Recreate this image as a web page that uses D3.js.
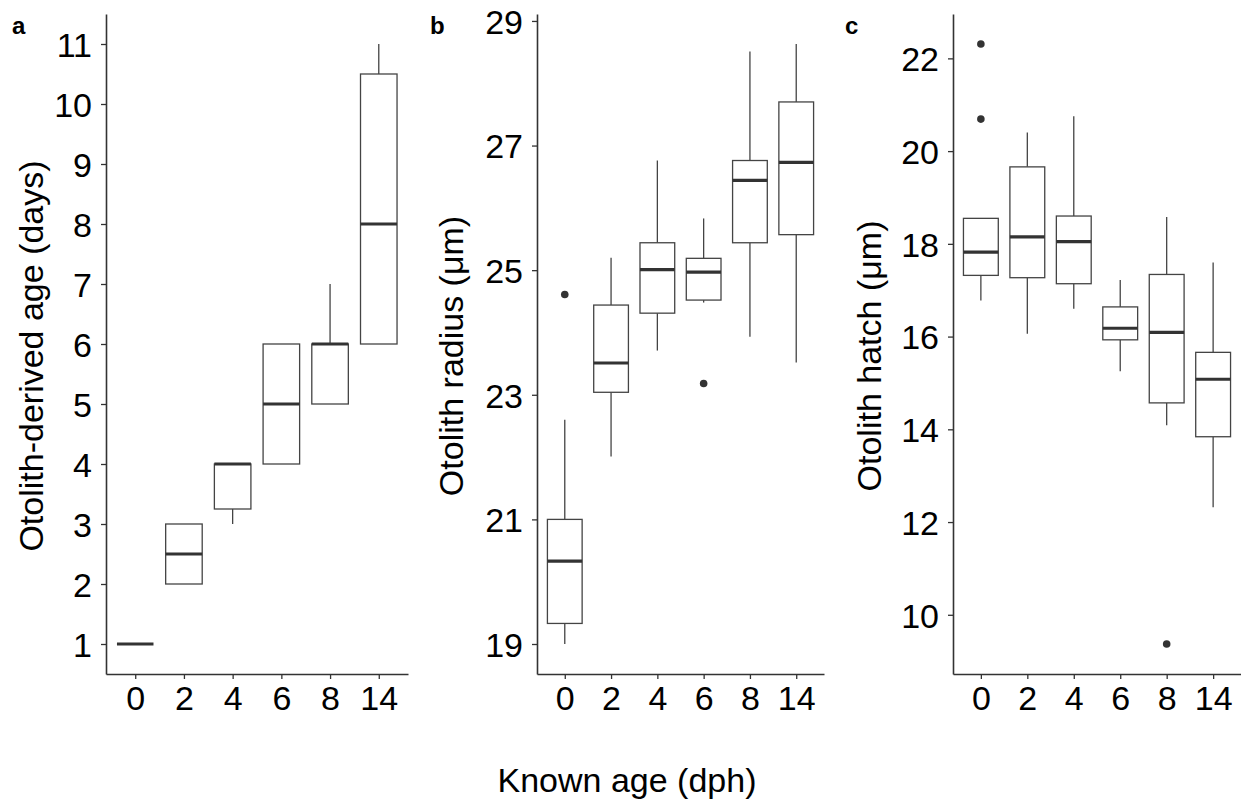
<!DOCTYPE html>
<html>
<head>
<meta charset="utf-8">
<script src="https://cdn.jsdelivr.net/npm/d3@7"></script>
<style>
  body { margin: 0; background: white; }
  text { font-family: "Liberation Sans", Arial, sans-serif; }
</style>
</head>
<body>
<div id="chart"></div>
<script>
// Known age groups (dph)
let categories = ["0", "2", "4", "6", "8", "14"];

// Panel a: otolith-derived age (days)
let aLow    = [1, 2, 3, 4, 5, 6];
let aQ1     = [1, 2, 3.25, 4, 5, 6];
let aMedian = [1, 2.5, 4, 5, 6, 8];
let aQ3     = [1, 3, 4, 6, 6, 10.5];
let aHigh   = [1, 3, 4, 6, 7, 11];
let aOut    = [[], [], [], [], [], []];
let aTicks  = [1, 2, 3, 4, 5, 6, 7, 8, 9, 10, 11];

// Panel b: otolith radius (um)
let bLow    = [19.0, 22.01, 23.71, 24.48, 23.93, 23.52];
let bQ1     = [19.33, 23.04, 24.31, 24.52, 25.44, 25.57];
let bMedian = [20.33, 23.51, 25.01, 24.97, 26.44, 26.73];
let bQ3     = [21.0, 24.44, 25.44, 25.19, 26.76, 27.70];
let bHigh   = [22.60, 25.20, 26.76, 25.83, 28.51, 28.63];
let bOut    = [[24.61], [], [], [23.18], [], []];
let bTicks  = [19, 21, 23, 25, 27, 29];

// Panel c: otolith hatch (um)
let cLow    = [16.78, 16.06, 16.60, 15.25, 14.09, 12.32];
let cQ1     = [17.32, 17.27, 17.14, 15.93, 14.57, 13.84];
let cMedian = [17.82, 18.15, 18.05, 16.18, 16.09, 15.08];
let cQ3     = [18.55, 19.66, 18.60, 16.64, 17.34, 15.66];
let cHigh   = [18.55, 20.40, 20.75, 17.22, 18.58, 17.60];
let cOut    = [[22.31, 20.69], [], [], [], [9.37], []];
let cTicks  = [10, 12, 14, 16, 18, 20, 22];

let width = 1241;
let height = 803;

let svg = d3.select('#chart')
    .append('svg')
    .attr('width', width)
    .attr('height', height)
    .style('background', 'white');

let panels = [
    {tag: 'a', title: 'Otolith-derived age (days)', left: 106, right: 408, titleX: 43,
     low: aLow, q1: aQ1, median: aMedian, q3: aQ3, high: aHigh, out: aOut, ticks: aTicks},
    {tag: 'b', title: 'Otolith radius (\u03bcm)', left: 537, right: 824, titleX: 463,
     low: bLow, q1: bQ1, median: bMedian, q3: bQ3, high: bHigh, out: bOut, ticks: bTicks},
    {tag: 'c', title: 'Otolith hatch (\u03bcm)', left: 953, right: 1241, titleX: 881,
     low: cLow, q1: cQ1, median: cMedian, q3: cQ3, high: cHigh, out: cOut, ticks: cTicks}
];

let plotTop = 14, plotBottom = 674;
let tagX = [12, 430, 845];

panels.forEach(function(p, i) {
    let g = svg.append('g');

    // ggplot-style 5% expansion of the data range
    let allVals = p.low.concat(p.high, d3.merge(p.out));
    let ext = d3.extent(allVals);
    let pad = (ext[1] - ext[0]) * 0.05;

    let y = d3.scaleLinear()
        .domain([ext[0] - pad, ext[1] + pad])
        .range([plotBottom, plotTop]);

    let x = d3.scalePoint()
        .domain(categories)
        .range([p.left, p.right])
        .padding(0.6);

    let boxW = x.step() * 0.75;

    categories.forEach(function(c, j) {
        let cx = x(c);

        // whiskers
        g.append('line')
            .attr('x1', cx).attr('x2', cx)
            .attr('y1', y(p.q3[j])).attr('y2', y(p.high[j]))
            .attr('stroke', '#444').attr('stroke-width', 1.3);
        g.append('line')
            .attr('x1', cx).attr('x2', cx)
            .attr('y1', y(p.q1[j])).attr('y2', y(p.low[j]))
            .attr('stroke', '#444').attr('stroke-width', 1.3);

        // box
        g.append('rect')
            .attr('x', cx - boxW / 2)
            .attr('width', boxW)
            .attr('y', y(p.q3[j]))
            .attr('height', y(p.q1[j]) - y(p.q3[j]))
            .attr('fill', 'white')
            .attr('stroke', '#444')
            .attr('stroke-width', 1.3);

        // median
        g.append('line')
            .attr('x1', cx - boxW / 2).attr('x2', cx + boxW / 2)
            .attr('y1', y(p.median[j])).attr('y2', y(p.median[j]))
            .attr('stroke', '#333').attr('stroke-width', 3.2);

        // outliers
        p.out[j].forEach(function(v) {
            g.append('circle')
                .attr('cx', cx).attr('cy', y(v))
                .attr('r', 3.8)
                .attr('fill', '#333');
        });
    });

    // y axis
    let yAxis = g.append('g')
        .attr('transform', `translate(${p.left}, 0)`)
        .call(d3.axisLeft(y).tickValues(p.ticks).tickSizeInner(5).tickSizeOuter(0).tickPadding(9));

    // x axis
    let xAxis = g.append('g')
        .attr('transform', `translate(0, ${plotBottom})`)
        .call(d3.axisBottom(x).tickSizeInner(5).tickSizeOuter(0).tickPadding(7));

    [yAxis, xAxis].forEach(function(ax) {
        ax.select('.domain').attr('stroke', '#333').attr('stroke-width', 1.6);
        ax.selectAll('.tick line').attr('stroke', '#333').attr('stroke-width', 1.3);
        ax.selectAll('.tick text')
            .attr('fill', 'black')
            .style('font-size', '34px')
            .style('font-family', '"Liberation Sans", Arial, sans-serif');
    });
    yAxis.selectAll('.tick text').attr('dy', '0.36em');

    // y title
    g.append('text')
        .attr('transform', `translate(${p.titleX}, ${(plotTop + plotBottom) / 2 + 12}) rotate(-90)`)
        .attr('text-anchor', 'middle')
        .style('font-size', '34px')
        .attr('fill', 'black')
        .text(p.title);

    // panel tag
    g.append('text')
        .attr('x', tagX[i])
        .attr('y', 34)
        .style('font-size', '24px')
        .style('font-weight', 'bold')
        .attr('fill', 'black')
        .text(p.tag);
});

// shared x title
svg.append('text')
    .attr('x', 627)
    .attr('y', 792)
    .attr('text-anchor', 'middle')
    .style('font-size', '34px')
    .attr('fill', 'black')
    .text('Known age (dph)');
</script>
</body>
</html>
